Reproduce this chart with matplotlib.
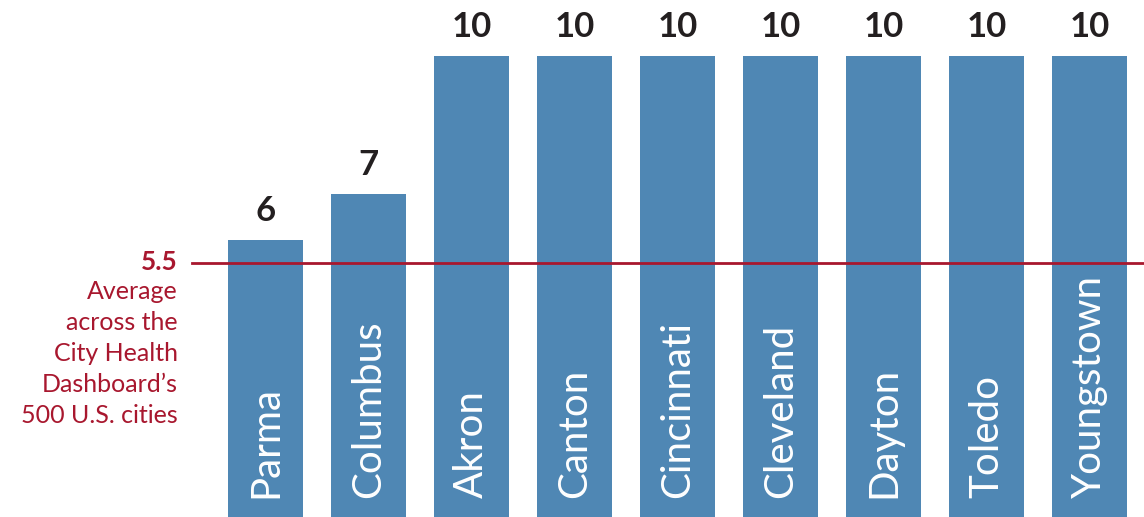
import matplotlib
matplotlib.use("Agg")
import matplotlib.pyplot as plt

# Ohio cities vs. the City Health Dashboard average
cities = ["Parma", "Columbus", "Akron", "Canton", "Cincinnati",
          "Cleveland", "Dayton", "Toledo", "Youngstown"]
values = [6, 7, 10, 10, 10, 10, 10, 10, 10]
average = 5.5
avg_note = "Average\nacross the\nCity Health\nDashboard\u2019s\n500 U.S. cities"

BAR = "#4f87b4"
RED = "#a8172e"
INK = "#231f20"
W, H = 1144, 517

plt.rcParams["font.family"] = ["Lato", "DejaVu Sans"]

fig = plt.figure(figsize=(W / 100, H / 100), dpi=100)
ax = fig.add_axes([0, 0, 1, 1])

step = 103.0  # pixels between bar centres
first = 265.5  # centre of the first bar in pixels
ax.set_xlim(-first / step, (W - first) / step)
ax.set_ylim(0, H / 46.1)
ax.axis("off")

x = list(range(len(cities)))
ax.bar(x, values, width=75 / step, color=BAR, zorder=2)

for i, (c, v) in enumerate(zip(cities, values)):
    ax.text(i, v + 0.28, str(v), ha="center", va="bottom",
            fontsize=25, fontweight="bold", color=INK)
    ax.text(i, 0.42, c, rotation=90, ha="center", va="bottom",
            fontsize=29, fontweight="normal", color="white", zorder=3)

ax.axhline(average, xmin=192 / W, xmax=1, color=RED, lw=2, zorder=3)

fig.text(178 / W, 1 - 262 / H, str(average), ha="right", va="center",
         fontsize=19, fontweight="bold", color=RED)
fig.text(178 / W, 1 - 280 / H, avg_note, ha="right", va="top",
         fontsize=18, color=RED, linespacing=1.42)

fig.savefig("out.png", dpi=100)
